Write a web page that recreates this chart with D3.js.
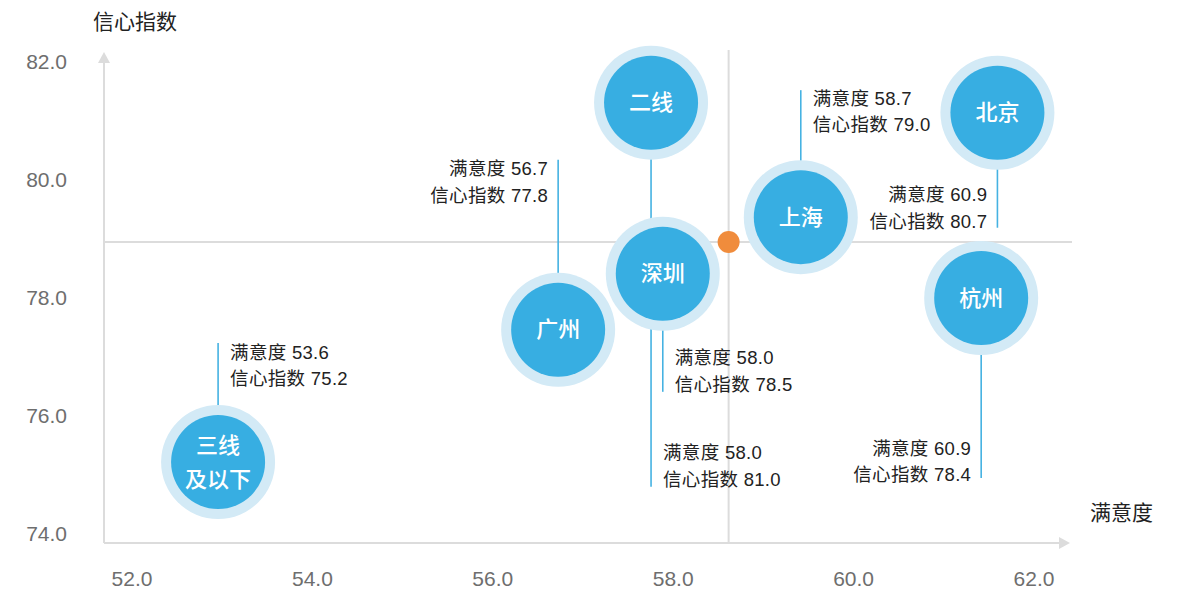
<!DOCTYPE html>
<html><head><meta charset="utf-8">
<script src="https://cdn.jsdelivr.net/npm/d3@7"></script>
<style>
body{margin:0;background:#fff;}
svg{display:block;}
text{font-family:"Liberation Sans","Noto Sans CJK SC",sans-serif;}
</style></head>
<body><svg id="chart" width="1184" height="596"></svg>
<script>
// ---- data ----
const cities = ["二线", "北京", "上海", "深圳", "广州", "杭州", "三线\n及以下"];
const satisfaction = [57.76, 61.60, 59.42, 57.89, 56.73, 61.42, 52.96]; // bubble x positions
const confidence   = [81.31, 81.14, 79.37, 78.41, 77.46, 78.00, 75.22]; // bubble y positions
const labelSatisfaction = ["58.0", "60.9", "58.7", "58.0", "56.7", "60.9", "53.6"];
const labelConfidence   = ["81.0", "80.7", "79.0", "78.5", "77.8", "78.4", "75.2"];
const averagePoint = [58.62, 78.95];
const xTicks = [52, 54, 56, 58, 60, 62];
const yTicks = [74, 76, 78, 80, 82];
const xTitle = "满意度";
const yTitle = "信心指数";

// ---- annotation layout (leader length in px, side of text, text shift) ----
const leaderLen = [384, 115, -127, 118, -170, 180, -119];
const leaderSide = ["right", "left", "right", "right", "left", "left", "right"];
const textShift = [0, 1, -1, 0, 0, 4, 0];

// ---- layout ----
const svg = d3.select("#chart");
const x = d3.scaleLinear().domain([52, 62]).range([131.5, 1033.5]);
const y = d3.scaleLinear().domain([74, 82]).range([534, 62]);
const axisLeft = 104, axisBottom = 543, axisRight = 1070, axisTop = 52;
const gridColor = "#dcdcdc";
const blue = "#37aee2", ring = "#d3eaf6", leaderColor = "#45b2e2";
const rInner = 47, rOuter = 57;

// axes lines + arrows
svg.append("line").attr("x1", axisLeft).attr("x2", axisRight - 10).attr("y1", axisBottom).attr("y2", axisBottom)
  .attr("stroke", gridColor).attr("stroke-width", 2);
svg.append("path").attr("d", `M${axisRight},${axisBottom} L${axisRight-11},${axisBottom-6} L${axisRight-11},${axisBottom+6} Z`).attr("fill", gridColor);
svg.append("line").attr("x1", axisLeft).attr("x2", axisLeft).attr("y1", axisBottom).attr("y2", axisTop + 10)
  .attr("stroke", gridColor).attr("stroke-width", 2);
svg.append("path").attr("d", `M${axisLeft},${axisTop} L${axisLeft-6},${axisTop+11} L${axisLeft+6},${axisTop+11} Z`).attr("fill", gridColor);

// tick labels via d3 axes (no lines)
const xAxis = svg.append("g").attr("transform", `translate(0,${axisBottom})`)
  .call(d3.axisBottom(x).tickValues(xTicks).tickFormat(d3.format(".1f")).tickSize(0).tickPadding(28));
xAxis.select(".domain").remove();
xAxis.selectAll("text").attr("font-size", 21).attr("fill", "#6e6e6e").attr("font-family", "Liberation Sans, sans-serif");
const yAxis = svg.append("g").attr("transform", `translate(67,0)`)
  .call(d3.axisLeft(y).tickValues(yTicks).tickFormat(d3.format(".1f")).tickSize(0).tickPadding(0));
yAxis.select(".domain").remove();
yAxis.selectAll("text").attr("font-size", 21).attr("fill", "#6e6e6e").attr("font-family", "Liberation Sans, sans-serif");

// axis titles
svg.append("text").attr("x", 93).attr("y", 21).attr("dominant-baseline", "central")
  .attr("font-size", 21).attr("fill", "#222").attr("font-family", "Noto Sans CJK SC").text(yTitle);
svg.append("text").attr("x", 1090).attr("y", 512).attr("dominant-baseline", "central")
  .attr("font-size", 21).attr("fill", "#222").attr("font-family", "Noto Sans CJK SC").text(xTitle);

// crosshair at average point
const ax = x(averagePoint[0]), ay = y(averagePoint[1]);
svg.append("line").attr("x1", ax).attr("x2", ax).attr("y1", 50).attr("y2", axisBottom)
  .attr("stroke", gridColor).attr("stroke-width", 2);
svg.append("line").attr("x1", axisLeft).attr("x2", axisRight + 2).attr("y1", ay).attr("y2", ay)
  .attr("stroke", gridColor).attr("stroke-width", 2);

const items = cities.map((c, i) => ({
  name: c, cx: x(satisfaction[i]), cy: y(confidence[i]),
  s: labelSatisfaction[i], c2: labelConfidence[i], len: leaderLen[i], side: leaderSide[i], shift: textShift[i]
}));

// leader lines
svg.append("g").selectAll("line").data(items).join("line")
  .attr("x1", d => d.cx).attr("x2", d => d.cx)
  .attr("y1", d => d.cy).attr("y2", d => d.cy + d.len)
  .attr("stroke", leaderColor).attr("stroke-width", 1.6);

// annotation texts
const ann = svg.append("g").selectAll("g").data(items).join("g");
ann.each(function(d) {
  const g = d3.select(this);
  const end = d.cy + d.len;
  const tx = d.side === "right" ? d.cx + 12 : d.cx - 10;
  const y1 = (d.len < 0 ? end + 9 : end - 34) + d.shift;
  const lines = ["满意度 " + d.s, "信心指数 " + d.c2];
  lines.forEach((t, k) => {
    g.append("text").attr("x", tx).attr("y", y1 + k * 26.5)
      .attr("text-anchor", d.side === "right" ? "start" : "end")
      .attr("dominant-baseline", "central")
      .attr("letter-spacing", 0.3)
      .attr("font-size", 18.5).attr("fill", "#222").text(t);
  });
});

// bubbles
const b = svg.append("g").selectAll("g").data(items).join("g")
  .attr("transform", d => `translate(${d.cx},${d.cy})`);
b.append("circle").attr("r", rOuter).attr("fill", ring);
b.append("circle").attr("r", rInner).attr("fill", blue);
b.each(function(d) {
  const parts = d.name.split("\n");
  const g = d3.select(this);
  parts.forEach((p, k) => {
    g.append("text").attr("y", (k - (parts.length - 1) / 2) * 34)
      .attr("text-anchor", "middle").attr("dominant-baseline", "central")
      .attr("font-family", "Noto Sans CJK SC").attr("font-weight", 500)
      .attr("font-size", 22).attr("fill", "#fff").text(p);
  });
});

// average point
svg.append("circle").attr("cx", ax).attr("cy", ay).attr("r", 11).attr("fill", "#f08c3c");
</script></body></html>
